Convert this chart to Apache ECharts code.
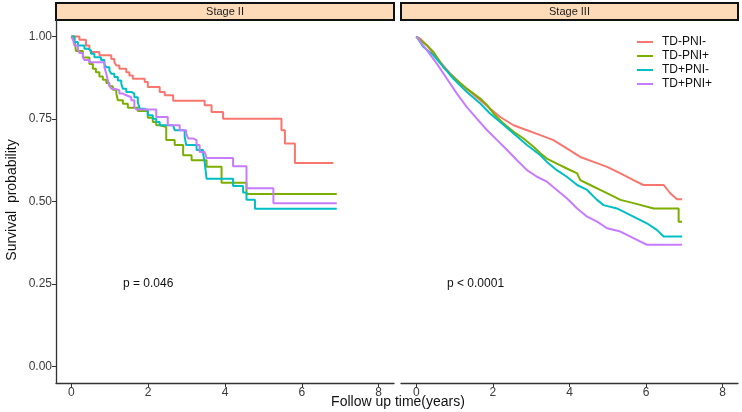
<!DOCTYPE html>
<html><head><meta charset="utf-8">
<script src="https://cdn.jsdelivr.net/npm/echarts@6/dist/echarts.min.js"></script>
<style>html,body{margin:0;padding:0;background:#fff}#c{width:742px;height:412px}</style>
</head><body><div id="c"></div>
<script>
const groups = ['TD-PNI-', 'TD-PNI+', 'TD+PNI-', 'TD+PNI+'];
const colors = ['#F8766D', '#7CAE00', '#00BFC4', '#C77CFF'];
const panels = ['Stage II', 'Stage III'];
const pLabels = ['p = 0.046', 'p < 0.0001'];
const xTicks = [0, 2, 4, 6, 8];
const yTicks = [0, 0.25, 0.5, 0.75, 1];

// Stage II
const s2_negneg_t = [0,0.21,0.38,0.47,0.51,0.73,1.04,1.12,1.17,1.25,1.43,1.51,1.60,1.91,1.99,2.30,2.43,2.65,3.47,3.65,3.95,5.47,5.56,5.82,6.82];
const s2_negneg_s = [1,0.990,0.973,0.963,0.953,0.943,0.932,0.922,0.912,0.902,0.892,0.882,0.872,0.862,0.847,0.832,0.822,0.805,0.792,0.771,0.751,0.716,0.676,0.617,0.617];
const s2_negpos_t = [0,0.08,0.12,0.30,0.47,0.56,0.64,0.73,0.82,0.91,0.99,1.08,1.17,1.21,1.34,1.47,1.73,1.99,2.12,2.21,2.30,2.47,2.69,2.91,3.13,3.52,3.91,4.56,6.91];
const s2_negpos_s = [1,0.988,0.956,0.936,0.917,0.902,0.892,0.879,0.869,0.859,0.849,0.839,0.827,0.807,0.796,0.784,0.774,0.754,0.741,0.731,0.726,0.686,0.671,0.640,0.625,0.605,0.557,0.523,0.523];
const s2_posneg_t = [0,0.08,0.17,0.34,0.43,0.51,0.60,0.77,0.86,0.91,0.99,1.04,1.12,1.21,1.30,1.34,1.43,1.56,1.64,1.73,1.78,1.91,1.99,2.12,2.21,2.30,2.65,2.69,2.95,2.99,3.26,3.43,3.47,3.52,4.21,4.47,4.56,4.78,6.91];
const s2_posneg_s = [1,0.983,0.973,0.963,0.958,0.948,0.937,0.929,0.917,0.907,0.897,0.887,0.877,0.867,0.857,0.842,0.832,0.827,0.816,0.801,0.781,0.776,0.761,0.751,0.741,0.731,0.726,0.716,0.696,0.671,0.656,0.645,0.620,0.569,0.547,0.527,0.505,0.478,0.478];
const s2_pospos_t = [0,0.05,0.08,0.17,0.21,0.30,0.34,0.47,0.86,0.91,0.95,0.99,1.04,1.12,1.25,1.34,1.43,1.56,1.64,1.69,2.21,2.51,2.82,2.99,3.04,3.17,3.26,3.34,3.47,3.52,4.21,4.56,5.26,6.91];
const s2_pospos_s = [1,0.988,0.973,0.963,0.950,0.937,0.929,0.922,0.907,0.887,0.867,0.852,0.842,0.837,0.827,0.822,0.816,0.807,0.786,0.779,0.756,0.731,0.716,0.706,0.691,0.686,0.671,0.650,0.645,0.632,0.607,0.540,0.495,0.495];

// Stage III
const s3_negneg_t = [0,0.10,0.28,0.45,0.63,0.89,1.15,1.41,1.67,1.93,2.19,2.54,2.89,3.24,3.58,3.93,4.28,4.63,4.98,5.33,5.67,5.93,6.46,6.63,6.81,6.94];
const s3_negneg_s = [1,0.993,0.973,0.948,0.922,0.887,0.857,0.832,0.807,0.781,0.756,0.731,0.716,0.701,0.686,0.661,0.635,0.620,0.605,0.585,0.565,0.550,0.550,0.525,0.507,0.507];
const s3_negpos_t = [0,0.28,0.45,0.71,0.97,1.32,1.67,1.85,2.02,2.28,2.54,2.80,3.06,3.24,3.41,3.67,3.93,4.20,4.28,4.54,4.80,5.07,5.33,5.67,6.20,6.85,6.85,6.94];
const s3_negpos_s = [1,0.973,0.953,0.907,0.877,0.842,0.812,0.792,0.766,0.736,0.711,0.691,0.666,0.646,0.630,0.615,0.600,0.585,0.565,0.550,0.535,0.520,0.505,0.495,0.479,0.479,0.439,0.439];
const s3_posneg_t = [0,0.19,0.45,0.71,0.97,1.32,1.67,1.93,2.19,2.54,2.89,3.24,3.41,3.67,3.93,4.20,4.46,4.72,4.89,5.24,5.50,5.76,6.02,6.28,6.46,6.94];
const s3_posneg_s = [1,0.968,0.943,0.907,0.872,0.832,0.797,0.766,0.741,0.706,0.671,0.640,0.620,0.595,0.575,0.550,0.535,0.505,0.489,0.479,0.464,0.449,0.434,0.414,0.394,0.394];
const s3_pospos_t = [0,0.28,0.54,0.80,1.06,1.32,1.58,1.85,2.11,2.37,2.63,2.89,3.15,3.41,3.67,3.93,4.20,4.46,4.72,4.98,5.33,5.67,6.02,6.94];
const s3_pospos_s = [1,0.958,0.917,0.872,0.827,0.786,0.751,0.716,0.686,0.656,0.625,0.595,0.575,0.560,0.535,0.510,0.479,0.454,0.439,0.419,0.409,0.389,0.369,0.369];

const panelData = [
  [[s2_negneg_t, s2_negneg_s], [s2_negpos_t, s2_negpos_s], [s2_posneg_t, s2_posneg_s], [s2_pospos_t, s2_pospos_s]],
  [[s3_negneg_t, s3_negneg_s], [s3_negpos_t, s3_negpos_s], [s3_posneg_t, s3_posneg_s], [s3_pospos_t, s3_pospos_s]]
];

const FONT = 'Liberation Sans, Arial, sans-serif';
const grids = [
  { left: 56, top: 20, width: 338, bottom: 29 },
  { left: 401, top: 20, width: 337, bottom: 29 }
];

const xAxes = grids.map((g, i) => ({
  gridIndex: i, type: 'value', min: -0.4, max: 8.4,
  axisLine: { show: true, onZero: false, lineStyle: { color: '#333', width: 1.3 } },
  axisTick: { show: true, customValues: xTicks, length: 4, lineStyle: { color: '#333' } },
  axisLabel: { customValues: xTicks, color: '#3a3a3a', fontSize: 12, fontFamily: FONT, margin: 4 },
  splitLine: { show: false }
}));
const yAxes = grids.map((g, i) => ({
  gridIndex: i, type: 'value', min: -0.05, max: 1.05,
  axisLine: { show: i === 0, onZero: false, lineStyle: { color: '#333', width: 1.3 } },
  axisTick: { show: i === 0, customValues: yTicks, length: 4, lineStyle: { color: '#333' } },
  axisLabel: { show: i === 0, customValues: yTicks, color: '#3a3a3a', fontSize: 12, fontFamily: FONT, margin: 4,
               formatter: v => v.toFixed(2) },
  splitLine: { show: false }
}));

const series = [];
panelData.forEach((pd, pi) => {
  pd.forEach(([ts, ss], gi) => {
    series.push({
      name: groups[gi], type: 'line', xAxisIndex: pi, yAxisIndex: pi,
      step: pi === 0 ? 'end' : false,
      showSymbol: false, symbol: 'none', silent: true,
      color: colors[gi],
      lineStyle: { color: colors[gi], width: 2 },
      data: ts.map((t, k) => [t, ss[k]]),
      z: 2 + gi
    });
  });
});

const graphic = [];
grids.forEach((g, i) => {
  graphic.push({
    type: 'rect', shape: { x: g.left, y: 3, width: g.width, height: 17 },
    style: { fill: '#FDDBB9', stroke: '#111', lineWidth: 2 }
  });
  graphic.push({
    type: 'text', x: g.left + g.width / 2, y: 11.5,
    style: { text: panels[i], textAlign: 'center', textVerticalAlign: 'middle', fontSize: 11, fontFamily: FONT, fill: '#1a1a1a' }
  });
});
graphic.push({ type: 'text', x: 123, y: 284, style: { text: pLabels[0], textVerticalAlign: 'middle', fontSize: 12, fontFamily: FONT, fill: '#111' } });
graphic.push({ type: 'text', x: 447, y: 284, style: { text: pLabels[1], textVerticalAlign: 'middle', fontSize: 12, fontFamily: FONT, fill: '#111' } });
graphic.push({ type: 'text', x: 398, y: 402, style: { text: 'Follow up time(years)', textAlign: 'center', textVerticalAlign: 'middle', fontSize: 14, fontFamily: FONT, fill: '#111' } });
graphic.push({ type: 'text', x: 12, y: 200, rotation: Math.PI / 2, style: { text: 'Survival  probability', textAlign: 'center', textVerticalAlign: 'middle', fontSize: 14, fontFamily: FONT, fill: '#111' } });

const chart = echarts.init(document.getElementById('c'), null, { renderer: 'canvas' });
chart.setOption({
  animation: false,
  backgroundColor: '#fff',
  grid: grids,
  xAxis: xAxes,
  yAxis: yAxes,
  legend: {
    data: groups, orient: 'vertical', left: 637, top: 36, padding: 0,
    icon: 'rect', itemWidth: 16, itemHeight: 2, itemGap: 2,
    textStyle: { fontSize: 12, fontFamily: FONT, color: '#111', lineHeight: 12, padding: [0, 0, 0, 4] },
    selectedMode: false
  },
  series: series,
  graphic: graphic
});
</script></body></html>
